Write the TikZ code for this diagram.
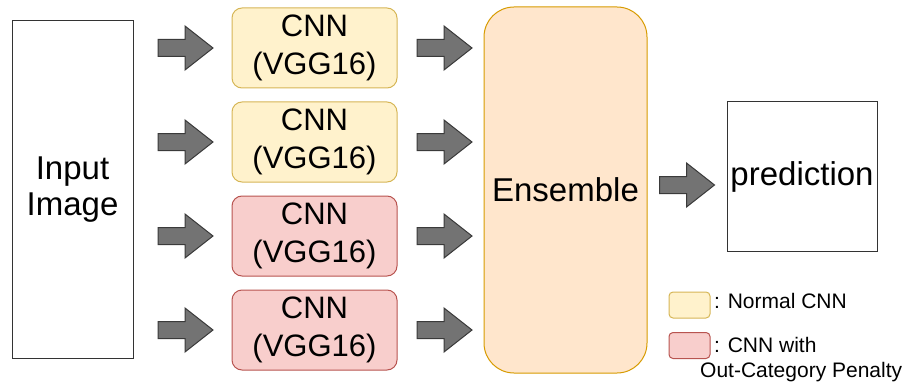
\documentclass[tikz,border=0pt]{standalone}
\usepackage{fontspec}
\setmainfont{Liberation Sans}
\usetikzlibrary{calc}
\definecolor{yfill}{HTML}{FFF2CC}
\definecolor{ydraw}{HTML}{D6B656}
\definecolor{rfill}{HTML}{F8CECC}
\definecolor{rdraw}{HTML}{B85450}
\definecolor{efill}{HTML}{FFE6CC}
\definecolor{edraw}{HTML}{D79B00}
\definecolor{afill}{HTML}{737373}
\definecolor{adraw}{HTML}{3A3A3A}
\tikzset{
  plainbox/.style={draw=black!80, line width=1pt, fill=white, inner sep=0pt, align=center},
  cnnbox/.style={line width=1pt, rounded corners=10pt, minimum width=165pt, minimum height=80pt,
                 inner sep=0pt, align=center, font=\fontsize{31}{38}\selectfont},
  normalcnn/.style={cnnbox, draw=ydraw, fill=yfill},
  penaltycnn/.style={cnnbox, draw=rdraw, fill=rfill},
  keybox/.style={line width=1pt, rounded corners=4pt, minimum width=41pt, minimum height=26pt, inner sep=0pt},
  keytext/.style={anchor=base west, inner sep=0pt, font=\fontsize{21}{25}\selectfont},
  blockarrow/.pic={
    \draw[fill=afill, draw=adraw, line width=1pt, line join=miter]
      (-27.5,-8.5) -- (-0.5,-8.5) -- (-0.5,-22) -- (27.5,0) -- (-0.5,22) -- (-0.5,8.5) -- (-27.5,8.5) -- cycle;
  }
}
\begin{document}
\begin{tikzpicture}[x=1pt, y=-1pt]
\useasboundingbox (0,0) rectangle (909,385);

% input image
\node[plainbox, minimum width=121pt, minimum height=337pt, font=\fontsize{33}{36}\selectfont]
  (in) at (72.5,189.5) {Input\\Image};

% four CNN branches
\node[normalcnn]  (c1) at (314.5,48)  {CNN\\(VGG16)};
\node[normalcnn]  (c2) at (314.5,142) {CNN\\(VGG16)};
\node[penaltycnn] (c3) at (314.5,236) {CNN\\(VGG16)};
\node[penaltycnn] (c4) at (314.5,330) {CNN\\(VGG16)};

% ensemble
\node[draw=edraw, fill=efill, line width=1pt, rounded corners=30pt,
      minimum width=163pt, minimum height=366pt, inner sep=0pt,
      font=\fontsize{33}{36}\selectfont] (ens) at (565.5,190) {Ensemble};

% prediction
\node[plainbox, minimum width=150pt, minimum height=149pt, font=\fontsize{33}{36}\selectfont]
  (pred) at (802,176.5) {prediction};

% block arrows between the stages
\foreach \c in {c1,c2,c3,c4}{
  \pic at ($($(in.east |- \c)!0.5!(\c.west)$)+(3,0)$) {blockarrow};
  \pic at ($($(\c.east)!0.5!(ens.west |- \c)$)+(4,0)$) {blockarrow};
}
\pic at ($(ens.east |- 0,185)!0.5!(pred.west |- 0,185)$) {blockarrow};

% legend
\node[keybox, draw=ydraw, fill=yfill] (k1) at (689.5,305) {};
\node[keybox, draw=rdraw, fill=rfill] (k2) at (689.5,345.5) {};
\node[keytext] (t1) at (714,308) {: Normal CNN};
\node[keytext] (t2) at (714,352) {: CNN with};
\node[keytext] (t3) at (700,377) {Out-Category Penalty};
\end{tikzpicture}
\end{document}
